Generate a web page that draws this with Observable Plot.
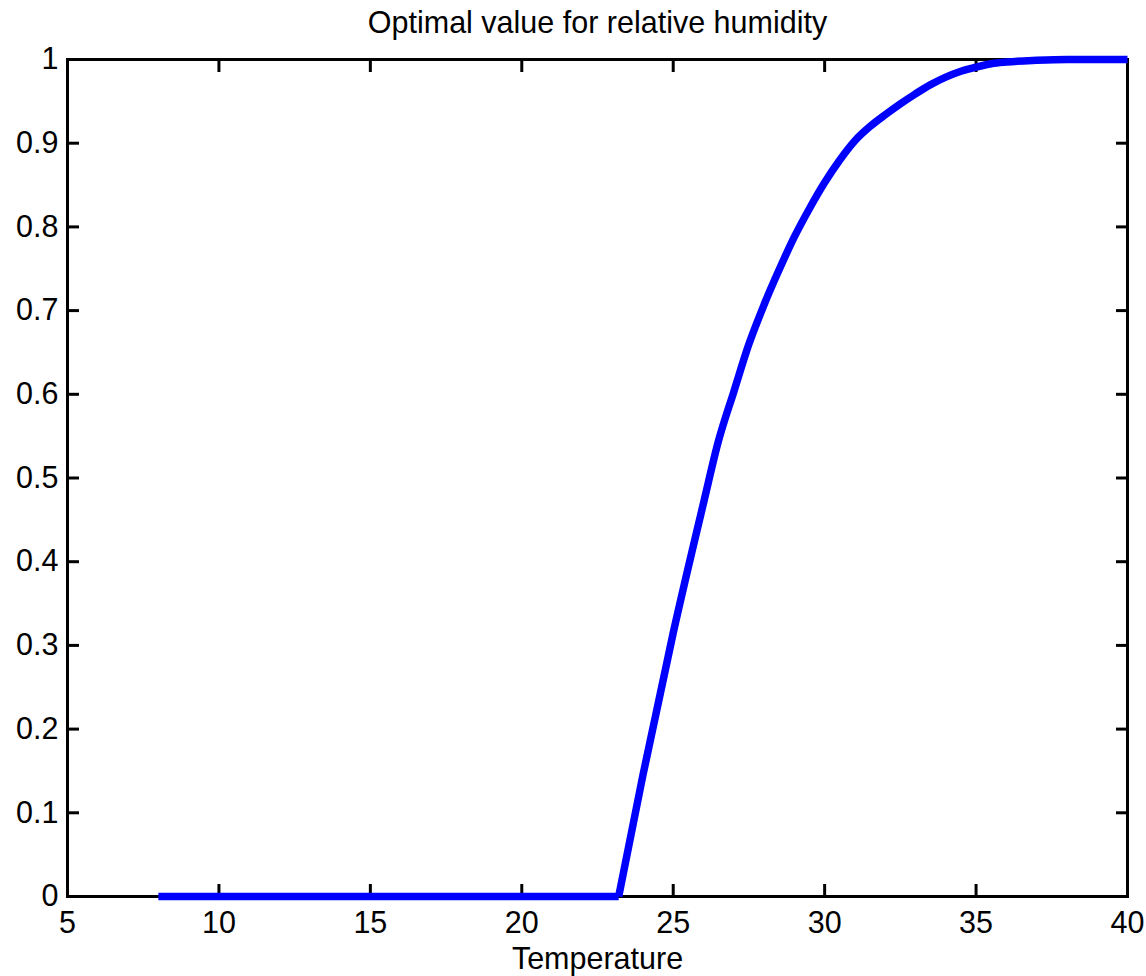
<!DOCTYPE html>
<html>
<head>
<meta charset="utf-8">
<script src="https://cdn.jsdelivr.net/npm/d3@7"></script>
<script src="https://cdn.jsdelivr.net/npm/@observablehq/plot@0.6"></script>
<style>
  html, body { margin: 0; padding: 0; background: #fff; }
</style>
</head>
<body>
<div id="chart"></div>
<script>
const title = "Optimal value for relative humidity";
const xLabel = "Temperature";
const xTicks = [5, 10, 15, 20, 25, 30, 35, 40];
const yTicks = [0, 0.1, 0.2, 0.3, 0.4, 0.5, 0.6, 0.7, 0.8, 0.9, 1];
const yTickLabels = ["0", "0.1", "0.2", "0.3", "0.4", "0.5", "0.6", "0.7", "0.8", "0.9", "1"];

// flat part (humidity 0)
const flatTemperature = [8, 23.2];
const flatHumidity = [0, 0];
// rising part
const temperature = [23.2, 24, 25, 26, 26.5, 27, 27.5, 28, 28.5, 29, 29.5, 30, 30.5, 31, 31.5, 32, 32.5, 33, 33.5, 34, 34.5, 35, 35.5, 36, 37, 38, 40];
const humidity    = [0, 0.145, 0.315, 0.470, 0.545, 0.603, 0.660, 0.707, 0.749, 0.788, 0.822, 0.853, 0.880, 0.903, 0.920, 0.934, 0.947, 0.959, 0.970, 0.979, 0.986, 0.991, 0.995, 0.997, 0.999, 1, 1];

const flat = flatTemperature.map((t, i) => ({t, h: flatHumidity[i]}));
const data = temperature.map((t, i) => ({t, h: humidity[i]}));
const fmtY = d => yTickLabels[yTicks.indexOf(d)] ?? String(d);
const blank = () => "";
const FS = 30.5;

const chart = Plot.plot({
  width: 1146,
  height: 976,
  marginLeft: 67,
  marginRight: 19,
  marginTop: 59,
  marginBottom: 80,
  style: {fontFamily: "'Liberation Sans', Arial, sans-serif", fontSize: FS + "px", color: "#000", background: "#fff"},
  x: {domain: [5, 40]},
  y: {domain: [0, 1]},
  marks: [
    Plot.axisX({ticks: xTicks, tickSize: 0, tickPadding: 15, label: null, fontSize: FS}),
    Plot.axisY({ticks: yTicks, tickSize: 0, tickPadding: 9, tickFormat: fmtY, label: null, fontSize: FS}),
    Plot.axisX({ticks: xTicks, anchor: "bottom", tickSize: 12, dy: -12, tickFormat: blank, label: null, strokeWidth: 3}),
    Plot.axisX({ticks: xTicks, anchor: "top", tickSize: 12, dy: 12, tickFormat: blank, label: null, strokeWidth: 3}),
    Plot.axisY({ticks: yTicks, anchor: "left", tickSize: 12, dx: 12, tickFormat: blank, label: null, strokeWidth: 3}),
    Plot.axisY({ticks: yTicks, anchor: "right", tickSize: 12, dx: -12, tickFormat: blank, label: null, strokeWidth: 3}),
    Plot.frame({stroke: "#000", strokeWidth: 3}),
    Plot.line(flat, {x: "t", y: "h", stroke: "#0000ff", strokeWidth: 7.5, strokeLinecap: "butt"}),
    Plot.line(data, {x: "t", y: "h", stroke: "#0000ff", strokeWidth: 7.5, strokeLinecap: "butt", strokeLinejoin: "round", curve: "monotone-x"}),
    Plot.text([title], {frameAnchor: "top", dy: -27, lineAnchor: "bottom", fontSize: FS, fill: "#000"}),
    Plot.text([xLabel], {frameAnchor: "bottom", dy: 72, lineAnchor: "bottom", fontSize: FS, fill: "#000"})
  ]
});
document.getElementById("chart").append(chart);
</script>
</body>
</html>
